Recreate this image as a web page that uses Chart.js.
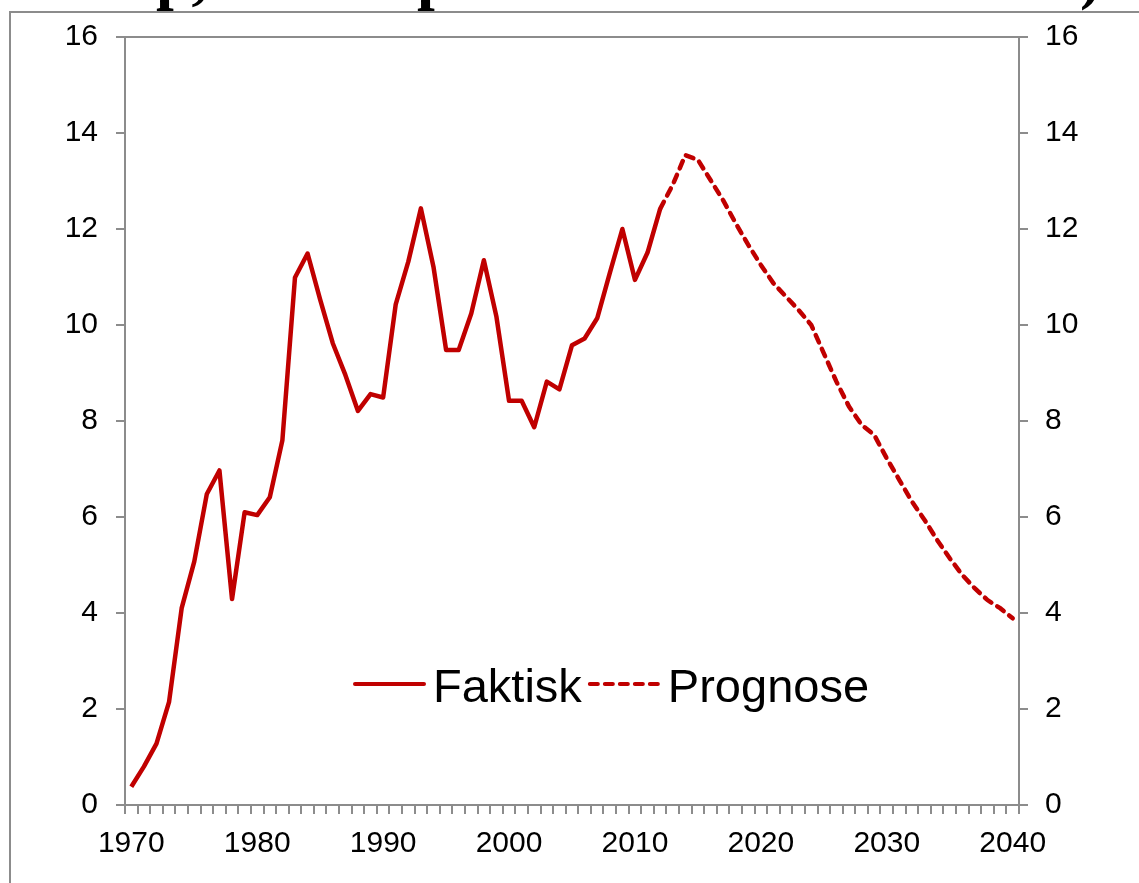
<!DOCTYPE html>
<html>
<head>
<meta charset="utf-8">
<script src="https://cdn.jsdelivr.net/npm/chart.js@4"></script>
<style>
  body { margin: 0; background: #fff; }
  canvas { display: block; }
</style>
</head>
<body>
<canvas id="chart" width="1139" height="883"></canvas>
<script>
// years 1970 - 2040
const years = [];
for (let y = 1970; y <= 2040; y++) years.push(String(y));

// actual values 1970 - 2012
const faktisk = [
  0.38, 0.80, 1.28, 2.15, 4.10, 5.07, 6.48, 6.97, 4.29, 6.10,
  6.04, 6.41, 7.60, 10.99, 11.49, 10.53, 9.62, 8.96, 8.21, 8.56,
  8.49, 10.43, 11.32, 12.43, 11.21, 9.48, 9.48, 10.24, 11.35, 10.17,
  8.42, 8.42, 7.87, 8.82, 8.66, 9.58, 9.72, 10.14, 11.08, 12.00,
  10.94, 11.51, 12.42
];

// forecast values 2012 - 2040
const prognose = [
  12.42, 12.92, 13.54, 13.44, 13.02, 12.60, 12.12, 11.67, 11.25, 10.87,
  10.59, 10.31, 10.00, 9.41, 8.82, 8.30, 7.92, 7.71, 7.22, 6.77,
  6.32, 5.94, 5.52, 5.14, 4.79, 4.51, 4.27, 4.10, 3.89
];

const yTicks = [0, 2, 4, 6, 8, 10, 12, 14, 16];

const red = '#C00000';
const grey = '#8c8c8c';
const font = 'Liberation Sans, Arial, sans-serif';

// pad the series so they line up with the year labels
const faktiskData = years.map((y, i) => i < faktisk.length ? faktisk[i] : null);
const prognoseStart = years.indexOf('2012');
const prognoseData = years.map((y, i) => i >= prognoseStart ? prognose[i - prognoseStart] : null);

const frame = {
  id: 'frame',
  beforeDraw(chart) {
    const ctx = chart.ctx;
    ctx.save();
    ctx.fillStyle = '#fff';
    ctx.fillRect(0, 0, chart.width, chart.height);
    ctx.strokeStyle = grey;
    ctx.lineWidth = 2;
    ctx.beginPath();
    ctx.moveTo(10, chart.height);
    ctx.lineTo(10, 12);
    ctx.lineTo(chart.width, 12);
    ctx.stroke();
    // bottom of the cut-off title
    ctx.fillStyle = '#000';
    ctx.font = 'bold 64px "Liberation Serif", serif';
    ctx.textBaseline = 'alphabetic';
    ctx.fillText('p,', 156, -3);
    ctx.fillText('p', 417, -3);
    ctx.fillText(')', 1080, -3);
    ctx.restore();
  }
};

const legendInside = {
  id: 'legendInside',
  afterDraw(chart) {
    const ctx = chart.ctx;
    ctx.save();
    ctx.font = '47px ' + font;
    ctx.textBaseline = 'alphabetic';
    let x = 355;
    const lineY = 684;
    chart.data.datasets.forEach(ds => {
      ctx.strokeStyle = ds.borderColor;
      ctx.lineWidth = 4;
      ctx.lineCap = 'round';
      ctx.setLineDash(ds.borderDash || []);
      ctx.beginPath();
      ctx.moveTo(x, lineY);
      ctx.lineTo(x + 69, lineY);
      ctx.stroke();
      ctx.setLineDash([]);
      x += 78;
      ctx.fillStyle = '#000';
      ctx.fillText(ds.label, x, 702);
      x += ctx.measureText(ds.label).width + 8;
    });
    ctx.restore();
  }
};

new Chart(document.getElementById('chart').getContext('2d'), {
  type: 'line',
  data: {
    labels: years,
    datasets: [
      {
        label: 'Faktisk',
        data: faktiskData,
        borderColor: red,
        borderWidth: 4.5,
        pointRadius: 0,
        tension: 0,
        borderJoinStyle: 'round',
        yAxisID: 'y'
      },
      {
        label: 'Prognose',
        data: prognoseData,
        borderColor: red,
        borderWidth: 4.5,
        borderDash: [8, 7],
        borderCapStyle: 'round',
        pointRadius: 0,
        tension: 0,
        yAxisID: 'y'
      }
    ]
  },
  options: {
    responsive: false,
    animation: false,
    devicePixelRatio: 1,
    layout: { padding: { top: 37, left: 0, right: 0, bottom: 0 } },
    plugins: { legend: { display: false }, tooltip: { enabled: false } },
    scales: {
      x: {
        type: 'category',
        offset: true,
        grid: {
          offset: true,
          drawOnChartArea: false,
          color: grey,
          lineWidth: 2,
          tickLength: 9
        },
        border: { color: grey, width: 2 },
        ticks: {
          autoSkip: false,
          maxRotation: 0,
          color: '#000',
          font: { family: font, size: 30 },
          padding: 12,
          callback: function (val) {
            const l = this.getLabelForValue(val);
            return Number(l) % 10 === 0 ? l : '';
          }
        },
        afterFit: s => { s.height = 78; }
      },
      y: {
        position: 'left',
        min: 0,
        max: 16,
        afterBuildTicks: s => { s.ticks = yTicks.map(v => ({ value: v })); },
        grid: {
          color: ctx => ctx.tick && ctx.tick.value === 16 ? grey : 'rgba(0,0,0,0)',
          tickColor: grey,
          lineWidth: 2,
          tickLength: 9
        },
        border: { color: grey, width: 2 },
        ticks: { color: '#000', font: { family: font, size: 30 }, padding: 18 },
        afterFit: s => { s.width = 125; }
      },
      y2: {
        position: 'right',
        min: 0,
        max: 16,
        afterBuildTicks: s => { s.ticks = yTicks.map(v => ({ value: v })); },
        grid: { drawOnChartArea: false, color: grey, lineWidth: 2, tickLength: 9 },
        border: { color: grey, width: 2 },
        ticks: { color: '#000', font: { family: font, size: 30 }, padding: 17 },
        afterFit: s => { s.width = 120; }
      }
    }
  },
  plugins: [frame, legendInside]
});
</script>
</body>
</html>
